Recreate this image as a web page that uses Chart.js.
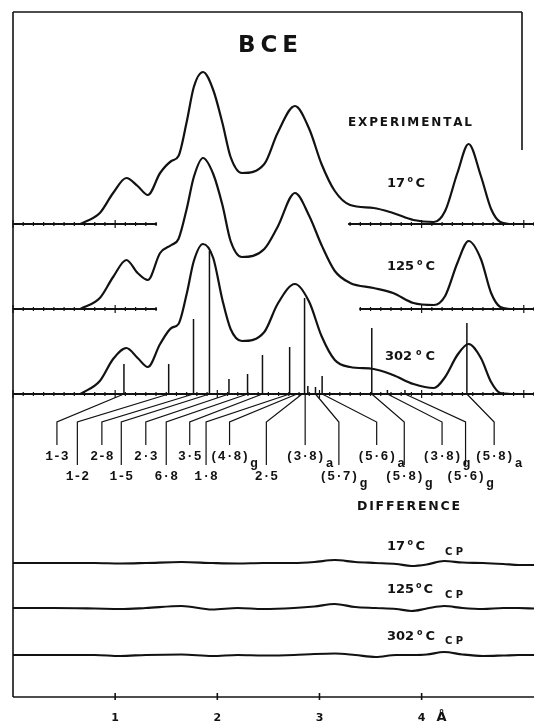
<!DOCTYPE html>
<html>
<head>
<meta charset="utf-8">
<script src="https://cdn.jsdelivr.net/npm/chart.js@4/dist/chart.umd.min.js"></script>
<style>
  html, body { margin: 0; padding: 0; background: #fff; overflow: hidden; }
  canvas { display: block; }
</style>
</head>
<body>
<canvas id="rdf" width="534" height="722"></canvas>
<script>
// distance grid (Å) and experimental curves
const r = [0.66, 0.85, 0.98, 1.11, 1.22, 1.32, 1.44, 1.55, 1.62, 1.70,
           1.77, 1.86, 1.96, 2.05, 2.13, 2.24, 2.46, 2.59, 2.76, 2.90,
           3.02, 3.15, 3.30, 3.53, 3.72, 3.92, 4.12, 4.23, 4.35, 4.46,
           4.58, 4.68, 4.77, 4.87];
const g17 = [0, 11, 31, 46, 38, 29, 51, 63, 68, 102, 137, 152, 134, 101, 67, 51, 60, 91, 118, 95,
             60, 33, 19, 16, 11, 4, 2, 13, 51, 80, 48, 15, 2, 0];
const g125 = [0, 11, 32, 49, 36, 29, 56, 64, 70, 100, 132, 151, 135, 104, 68, 52, 60, 82, 116, 93,
              64, 38, 26, 21, 16, 6, 4, 13, 46, 68, 50, 16, 2, 0];
const g302 = [0, 13, 35, 46, 36, 27, 50, 66, 70, 100, 133, 150, 136, 94, 65, 53, 62, 90, 110, 92,
              58, 34, 27, 25, 19, 10, 6, 17, 39, 50, 36, 12, 1, 0];

// difference curves (experimental - calculated)
const rDiff = [0, 0.4, 0.8, 1.05, 1.3, 1.65, 1.95, 2.2, 2.45, 2.75, 2.95, 3.15, 3.35, 3.55,
               3.75, 3.9, 4.05, 4.22, 4.4, 4.6, 4.8, 4.95, 5.1];
const d17 = [0, 0, 0, -0.5, 0, 1, 0, -0.5, 0, 0, 1, 3, 1, 0, -1, -3, -1.5, 2, 0.5, 0, -1, -2, -2];
const d125 = [0, 0, -0.5, -1, 0, 2, -1.5, 0, -1, 0, 1.5, 4, 1, 0, -1, -3, -0.5, 2, 0, -1, 0, 0, -0.5];
const d302 = [0, 0, 0, -1, 0, 0.5, -1, 0, -0.5, 0, 1, 1.5, 0, -2, 0, 0, 0.5, 3, 0.5, -1, -0.5, 0, 0];

// calculated distance sticks under the 302 C curve
const stickR = [1.086, 1.524, 1.767, 1.923, 2.114, 2.296, 2.442, 2.708, 2.854, 2.886, 2.961, 3.026,
                3.512, 3.665, 3.837, 4.443];
const stickH = [30, 30, 75, 143, 15, 20, 39, 47, 96, 8, 7, 18, 66, 4, 4, 71];

// atom pair labels
const bondText = ['1-3', '1-2', '2-8', '1-5', '2·3', '6·8', '3·5', '1·8', '(4·8)', '2·5',
                  '(3·8)', '(5·7)', '(5·6)', '(5·8)', '(3·8)', '(5·6)', '(5·8)'];
const bondSub = ['', '', '', '', '', '', '', '', 'g', '', 'a', 'g', 'a', 'g', 'g', 'g', 'a'];
const bondR = [1.086, 1.524, 1.767, 1.923, 2.114, 2.296, 2.442, 2.708, 2.78, 2.83, 2.86, 2.961,
               3.026, 3.512, 3.665, 3.837, 4.443];
const labelR = [0.43, 0.63, 0.87, 1.06, 1.30, 1.50, 1.73, 1.89, 2.12, 2.48, 2.86, 3.19, 3.56,
                3.83, 4.20, 4.43, 4.71];
const labelRow = [0, 1, 0, 1, 0, 1, 0, 1, 0, 1, 0, 1, 0, 1, 0, 1, 0];

const xTicks = [1, 2, 3, 4];

// vertical offsets of each trace (y units = height above the bottom axis)
const base = { e17: 473, e125: 388, e302: 303, d17: 134, d125: 89, d302: 42 };
const elbowY = 275;
const rowTop = [252, 232];
const ink = '#121212';
const sans = '"DejaVu Sans"';
const mono = '"Liberation Mono"';

function curve(xs, ys, off, width) {
  return {
    data: xs.map((x, i) => ({ x: x, y: ys[i] + off })),
    showLine: true, borderColor: ink, borderWidth: width, pointRadius: 0,
    cubicInterpolationMode: 'monotone'
  };
}

function segments(points, width) {
  return {
    data: points, showLine: true, spanGaps: false, borderColor: ink,
    borderWidth: width, pointRadius: 0, tension: 0
  };
}

const stickPts = stickR.flatMap((x, i) => [
  { x: x, y: base.e302 }, { x: x, y: base.e302 + stickH[i] }, { x: x, y: null }]);
const leaderPts = bondR.flatMap((x, i) => [
  { x: x, y: base.e302 }, { x: labelR[i], y: elbowY },
  { x: labelR[i], y: rowTop[labelRow[i]] }, { x: labelR[i], y: null }]);

const baselines = [
  { y: base.e17, segs: [[0, 1.41], [3.28, 5.1]] },
  { y: base.e125, segs: [[0, 1.41], [3.39, 5.1]] },
  { y: base.e302, segs: [[0, 5.1]] }
];

function line(ctx, x1, y1, x2, y2) {
  ctx.beginPath(); ctx.moveTo(x1, y1); ctx.lineTo(x2, y2); ctx.stroke();
}

function spread(ctx, text, x0, x1, yb) {
  const chars = [...text];
  const w = chars.map(c => ctx.measureText(c).width);
  const total = w.reduce((a, b) => a + b, 0);
  const gap = chars.length > 1 ? (x1 - x0 - total) / (chars.length - 1) : 0;
  let x = x0;
  chars.forEach((c, i) => { ctx.fillText(c, x, yb); x += w[i] + gap; });
}

// "17", raised "o", "C" packed into [x0, x1]
function degLabel(ctx, num, x0, x1, yb, size) {
  const big = 'bold ' + size + 'px ' + sans;
  const small = 'bold ' + Math.round(size * 0.62) + 'px ' + sans;
  ctx.font = big;
  const wn = ctx.measureText(num).width, wc = ctx.measureText('C').width;
  ctx.font = small;
  const wo = ctx.measureText('o').width;
  const gap = (x1 - x0 - wn - wo - wc) / 2;
  ctx.font = big;
  ctx.fillText(num, x0, yb);
  ctx.fillText('C', x0 + wn + wo + 2 * gap, yb);
  ctx.font = small;
  ctx.fillText('o', x0 + wn + gap, yb - size * 0.4);
}

const decor = {
  id: 'decor',
  beforeDatasetsDraw(chart) {
    const { ctx, chartArea: a, scales: { x, y } } = chart;
    ctx.save();
    ctx.strokeStyle = ink;
    ctx.lineWidth = 1.6;
    // frame
    line(ctx, a.left, a.top, a.left, a.bottom);
    line(ctx, a.left, a.top, 522, a.top);
    line(ctx, 522, a.top, 522, 150);
    // bottom axis
    line(ctx, a.left, a.bottom, a.right, a.bottom);
    xTicks.forEach(t => {
      const px = x.getPixelForValue(t);
      line(ctx, px, a.bottom - 4, px, a.bottom + 3);
    });
    // tick-marked baselines
    baselines.forEach(b => {
      const py = y.getPixelForValue(b.y);
      b.segs.forEach(([s, e]) => {
        ctx.lineWidth = 2;
        line(ctx, x.getPixelForValue(s), py, Math.min(a.right, x.getPixelForValue(e)), py);
        ctx.lineWidth = 1.2;
        for (let k = Math.ceil(s * 10); k <= Math.floor(e * 10); k++) {
          const px = x.getPixelForValue(k / 10);
          if (px > a.right) break;
          const len = k % 10 === 0 ? 4 : 2;
          line(ctx, px, py - len, px, py + len);
        }
      });
    });
    ctx.restore();
  },
  afterDraw(chart) {
    const { ctx, scales: { x } } = chart;
    ctx.save();
    ctx.fillStyle = ink;
    ctx.textAlign = 'left';
    ctx.textBaseline = 'alphabetic';

    ctx.font = 'bold 23px ' + sans;
    spread(ctx, 'BCE', 238, 298, 52);

    ctx.font = 'bold 12px ' + sans;
    spread(ctx, 'EXPERIMENTAL', 348, 472, 126);
    ctx.font = 'bold 12.5px ' + sans;
    spread(ctx, 'DIFFERENCE', 357, 460, 510);

    degLabel(ctx, '17', 387, 425, 187, 13);
    degLabel(ctx, '125', 387, 435, 270, 13);
    degLabel(ctx, '302', 385, 435, 360, 13);

    degLabel(ctx, '17', 387, 425, 550, 13);
    degLabel(ctx, '125', 387, 433, 593, 13);
    degLabel(ctx, '302', 387, 435, 640, 13);
    ctx.font = 'bold 10px ' + sans;
    spread(ctx, 'CP', 445, 463, 555);
    spread(ctx, 'CP', 445, 463, 598);
    spread(ctx, 'CP', 445, 463, 644);

    // pair labels
    const rowBase = [460, 480];
    bondText.forEach((t, i) => {
      ctx.font = 'bold 13px ' + mono;
      const cx = x.getPixelForValue(labelR[i]);
      const w = ctx.measureText(t).width;
      const yb = rowBase[labelRow[i]];
      ctx.fillText(t, cx - w / 2, yb);
      if (bondSub[i]) ctx.fillText(bondSub[i], cx + w / 2 + 1, yb + 7);
    });

    // axis numbers
    ctx.font = 'bold 11px ' + sans;
    ctx.textAlign = 'center';
    xTicks.forEach(t => ctx.fillText(String(t), x.getPixelForValue(t), 721));
    ctx.font = 'bold 13px ' + sans;
    ctx.fillText('Å', x.getPixelForValue(4) + 20, 721);
    ctx.restore();
  }
};

const ctx = document.getElementById('rdf').getContext('2d');
new Chart(ctx, {
  type: 'scatter',
  data: {
    datasets: [
      curve(r, g17, base.e17, 2.2),
      curve(r, g125, base.e125, 2.2),
      curve(r, g302, base.e302, 2.2),
      segments(stickPts, 1.5),
      segments(leaderPts, 1.2),
      curve(rDiff, d17, base.d17, 2.2),
      curve(rDiff, d125, base.d125, 2.2),
      curve(rDiff, d302, base.d302, 2.2)
    ]
  },
  options: {
    responsive: false,
    animation: false,
    devicePixelRatio: 1,
    layout: { padding: { left: 13, right: 0, top: 12, bottom: 25 } },
    scales: {
      x: { type: 'linear', min: 0, max: 5.1, display: false },
      y: { type: 'linear', min: 0, max: 685, display: false }
    },
    plugins: { legend: { display: false }, tooltip: { enabled: false } }
  },
  plugins: [decor]
});
</script>
</body>
</html>
